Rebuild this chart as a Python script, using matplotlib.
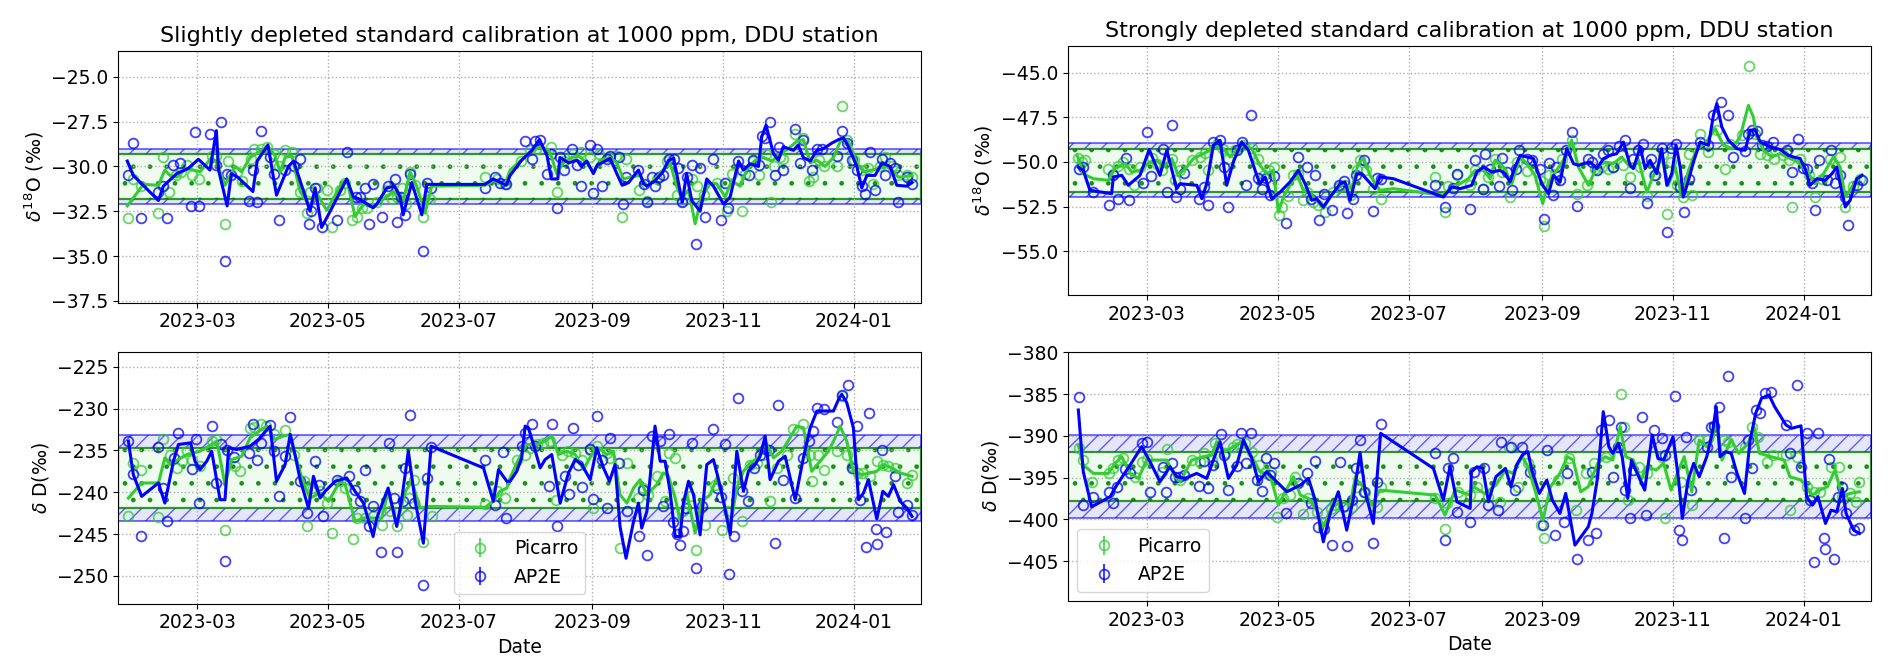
import numpy as np
import matplotlib
matplotlib.use('Agg')
import matplotlib.pyplot as plt
import matplotlib.dates as mdates
from matplotlib.ticker import MultipleLocator

# dates are given as days since 2023-01-01, values in permil
BASE = np.datetime64('2023-01-01T00:00')
XLIM_DAYS = (22.2, 396.2)

GREEN = '#33cc33'
BLUE = '#0000ff'

# reference value, half width AP2E band, half width Picarro band, half y-range
O18_SLIGHT_REF = (-30.57, 1.54, 1.26, 7.03)
D_SLIGHT_REF = (-238.26, 5.15, 3.6, 15.05)
O18_STRONG_REF = (-50.47, 1.52, 1.21, 7.0)
D_STRONG_REF = (-394.87, 4.95, 2.9, 14.92)

# ---------------- slightly depleted, d18O ----------------
O18_SLIGHT_PIC = [(27, -32.9), (29, -30.7), (33, -31.1), (41, -32.6), (43, -29.5), (46, -31.4), (49, -30.5), (51.5, -30.3),
    (54.5, -29.9), (56.5, -30.5), (60, -30.7), (66, -29.4), (68, -29.4), (72, -33.2), (73.6, -29.7), (77.5, -30.3),
    (80, -30.8), (84, -29.6), (85.6, -29.05), (89, -29.0), (91.5, -28.9), (95, -29.3), (97, -30.0), (100, -29.1),
    (103, -29.2), (107, -31.4), (110, -32.6), (111.6, -31.4), (115, -31.2), (119.7, -31.3), (121.7, -33.4), (125.6, -31.3),
    (128, -30.9), (131, -33.0), (133.4, -32.8), (135.7, -32.3), (138, -32.3), (142.7, -32.0), (147.4, -31.3), (149.7, -31.8),
    (152, -31.7), (154.3, -31.2), (156.4, -32.1), (158.2, -30.3), (160.6, -31.05), (164.4, -32.8), (167.5, -31.8),
    (193.2, -30.6), (198.6, -30.7), (202.5, -31.0), (210, -29.7), (214, -29.1), (217, -29.0), (224, -28.9), (226.5, -31.4),
    (230, -29.7), (234, -29.3), (238, -29.2), (242, -29.5), (246, -29.3), (251, -29.5), (254, -29.4), (257, -32.8),
    (259, -29.6), (265, -31.3), (268.5, -31.9), (273, -30.7), (278, -29.7), (282.5, -31.6), (285, -31.9), (289.4, -30.7),
    (292, -31.1), (295, -31.6), (301, -30.9), (306, -32.5), (308, -30.4), (312.7, -32.5), (314, -30.4), (318, -29.7),
    (320.5, -30.5), (324, -29.3), (326.5, -32.0), (327.5, -30.0), (330.6, -29.5), (332, -29.6), (337.6, -28.2),
    (341.4, -28.4), (343.8, -30.8), (346, -30.6), (348.5, -29.65), (351, -30.0), (357, -30.0), (359.3, -26.6),
    (361.6, -28.5), (365, -29.65), (368.6, -30.2), (371.5, -30.1), (374, -31.0), (377, -30.0), (379.5, -29.5),
    (382.6, -30.0), (385.7, -30.5), (389.6, -30.5), (392, -30.6)]
O18_SLIGHT_PIC_LINE = [(26.5, -32.2), (34, -31.0), (41, -31.05), (44, -30.2), (46.4, -30.5), (49.5, -30.6), (54.2, -30.1),
    (60.4, -30.3), (65.8, -29.5), (68.2, -29.8), (72, -31.05), (76.7, -30.0), (79.8, -30.3), (83.7, -29.5), (89.1, -29.1),
    (92.2, -28.9), (95.3, -29.4), (97.7, -30.3), (100, -29.5), (103.1, -29.4), (107, -31.4), (111.6, -32.2), (114.7, -31.5),
    (119.4, -32.45), (125.6, -31.1), (128.7, -30.7), (132.6, -32.8), (136.5, -32.1), (141.1, -32.3), (145.8, -31.8),
    (150.5, -31.4), (155.1, -31.9), (158.2, -30.3), (161.3, -31.1), (165.2, -32.6), (168.3, -31.1), (193.2, -31.05),
    (197, -30.8), (202.5, -31.0), (204.8, -30.2), (209.5, -29.7), (214, -29.2), (218.8, -28.9), (222.7, -29.1),
    (224.2, -29.5), (226.5, -30.4), (229.6, -29.8), (233.5, -29.5), (236.6, -29.4), (240.5, -29.8), (243.6, -30.3),
    (246.7, -29.65), (251.4, -29.5), (254.5, -29.8), (257.6, -30.7), (260.7, -30.6), (265.4, -30.5), (268.5, -31.1),
    (271.6, -30.8), (276, -30.2), (279.3, -29.8), (282.4, -31.1), (284.8, -31.8), (287.9, -31.3), (291, -33.2), (294, -31.7),
    (298, -30.96), (301, -30.96), (305, -31.7), (308, -30.8), (312, -31.1), (315, -30.2), (319, -29.65), (322.8, -29.5),
    (326.7, -29.7), (330.6, -29.3), (334.5, -29.0), (338.3, -28.6), (341.4, -28.5), (344.6, -29.8), (347.7, -29.65),
    (351.5, -30.0), (355.4, -29.5), (359.3, -28.4), (362.4, -28.6), (366.3, -29.8), (369.4, -30.3), (373.3, -30.2),
    (377.2, -30.1), (381, -30.0), (385.7, -30.6), (392, -30.5)]
O18_SLIGHT_AP = [(27, -30.5), (29, -28.7), (33, -32.9), (41, -31.4), (43, -31.1), (45, -32.9), (48, -29.9), (51, -29.8),
    (56, -32.2), (58, -28.1), (60, -32.2), (65, -28.2), (68, -29.9), (70, -27.5), (72, -35.3), (73, -30.4), (75, -30.5),
    (83, -31.9), (85, -30.2), (87, -32.0), (89, -28.0), (93, -29.5), (95, -30.4), (97, -33.0), (100, -30.2), (104, -30.0),
    (107, -29.6), (111, -33.2), (112, -32.5), (114, -31.2), (117, -33.4), (124, -33.0), (129, -29.2), (133, -31.7),
    (135, -31.7), (137, -31.2), (139, -33.2), (141, -31.0), (145, -32.8), (148, -31.1), (151, -30.7), (152, -33.1),
    (154, -31.7), (156, -32.7), (158, -30.4), (164, -34.7), (166, -30.9), (168, -31.2), (193, -31.2), (198, -30.6),
    (200, -30.9), (203, -31.0), (211.8, -28.6), (215, -29.6), (216.4, -28.6), (218.5, -28.5), (222, -30.4), (224, -29.3),
    (226.5, -32.3), (228, -29.5), (230, -30.2), (233.5, -29.0), (236, -29.9), (238, -31.1), (242, -28.8), (243.6, -31.5),
    (245.5, -29.05), (247.5, -31.1), (250, -29.6), (251.4, -29.4), (255.3, -29.5), (257.6, -32.1), (258.8, -30.6),
    (264.6, -30.2), (267, -30.96), (268.5, -32.0), (270.8, -30.6), (272.3, -31.1), (274, -30.6), (276, -30.5),
    (278.6, -29.6), (281, -29.6), (283, -30.1), (285, -32.0), (287, -30.6), (289.4, -29.9), (291.4, -34.3), (293.3, -30.1),
    (295.6, -32.8), (299.2, -29.6), (303, -33.0), (305, -30.9), (306.5, -32.3), (311, -29.7), (312.7, -30.2), (316, -30.5),
    (318, -29.65), (320.5, -29.9), (322, -28.3), (323.6, -28.4), (326, -27.5), (328, -30.5), (330, -28.9), (332, -30.2),
    (337.6, -27.9), (340, -29.8), (341.4, -28.5), (345.3, -30.2), (347.7, -29.05), (350, -29.05), (357, -29.4),
    (359.3, -28.0), (361.6, -28.7), (364, -29.65), (366.3, -30.2), (368.6, -31.1), (370.2, -31.55), (372.5, -29.2),
    (374.8, -31.3), (378, -29.6), (379.5, -30.5), (381.8, -29.8), (384, -30.1), (385.7, -32.0), (389.6, -30.6), (392, -31.0)]
O18_SLIGHT_AP_LINE = [(26.5, -29.7), (29.3, -30.5), (41, -31.9), (43.3, -31.1), (49.5, -30.4), (55, -30.1), (59.6, -29.6),
    (65, -30.2), (68, -28.0), (69, -30.2), (73, -32.2), (75, -30.4), (78, -30.6), (85, -31.4), (87, -29.7), (92, -28.8),
    (93, -29.5), (96, -31.6), (101.5, -30.0), (104, -29.7), (110, -31.9), (111.6, -32.5), (114, -31.2), (117, -33.4),
    (121, -32.5), (128.7, -30.7), (131.8, -31.7), (134.2, -31.8), (141, -32.3), (142.7, -32.1), (147.4, -31.2), (151, -31.1),
    (153.6, -31.7), (155, -32.7), (159, -30.9), (163.7, -32.7), (166, -31.0), (168.3, -31.0), (193, -31.0), (197, -30.7),
    (203, -31.05), (204.8, -30.5), (210.2, -29.65), (215, -29.1), (218.5, -28.5), (222, -29.4), (224, -30.7), (227, -30.7),
    (228, -29.5), (232, -29.8), (236, -29.65), (238, -30.0), (240.5, -29.7), (243.6, -30.4), (245.5, -29.9), (247.5, -29.8),
    (251.4, -29.55), (254.5, -30.4), (257, -31.05), (260, -30.9), (264.6, -30.2), (267, -30.96), (268.5, -31.1),
    (272.3, -30.8), (276, -30.3), (278.6, -29.65), (281, -29.55), (285, -32.0), (287, -30.4), (289.4, -31.9), (293.3, -32.5),
    (296.4, -30.7), (299.5, -31.1), (304.2, -32.1), (307.3, -31.7), (311.2, -29.7), (313.5, -30.2), (316.6, -29.85),
    (320.5, -30.0), (322, -28.35), (324, -27.7), (327.5, -29.3), (329.8, -29.65), (332, -28.9), (336.8, -29.1), (339, -28.8),
    (341.4, -29.5), (344.6, -29.7), (347.7, -29.1), (350.8, -29.0), (354.6, -28.7), (357.8, -28.5), (360.1, -28.4),
    (362.4, -28.9), (366.3, -30.0), (368.6, -31.2), (371, -30.5), (374.8, -30.5), (378, -29.8), (381.8, -30.0),
    (384.9, -31.05), (389.6, -31.1), (392, -30.9)]

# ---------------- slightly depleted, dD ----------------
D_SLIGHT_PIC = [(27, -242.8), (29, -236.5), (33, -237.4), (41, -243.0), (43, -233.6), (46.4, -235.5), (49.5, -237.1),
    (52, -236.3), (54.5, -235.1), (56.5, -236.1), (60.4, -236.9), (65.8, -233.9), (68, -233.7), (72, -244.5), (76.7, -236.9),
    (79, -237.5), (83.7, -232.3), (85.6, -232.2), (88.7, -231.9), (91, -232.1), (95, -233.1), (100, -232.6), (104, -235.5),
    (108.8, -238.7), (110.4, -244.1), (113, -239.5), (116.3, -239.9), (119.7, -241.3), (121.7, -244.9), (125.6, -238.7),
    (128, -239.5), (131.5, -245.6), (133.4, -243.1), (137.3, -243.1), (141.1, -242.9), (145, -243.9), (149, -242.3),
    (152, -244.1), (156.7, -242.7), (157.5, -240.7), (160, -238.5), (164.4, -245.9), (168.3, -242.9), (193.2, -241.4),
    (198.6, -239.9), (202.5, -240.7), (208, -236.1), (211.8, -235.5), (214.1, -234.7), (217.2, -234.3), (220.3, -234.1),
    (223.4, -233.9), (226.2, -240.9), (228.9, -235.5), (232, -235.1), (235.1, -235.3), (238.2, -236.1), (242.1, -235.0),
    (243.6, -241.9), (245.5, -234.5), (249.8, -235.3), (251.4, -235.9), (256, -246.7), (259.2, -236.5), (264.6, -240.7),
    (266.9, -239.5), (269.2, -240.3), (273.1, -238.1), (277, -241.1), (278.6, -235.3), (281.7, -235.9), (285.5, -242.3),
    (288.7, -240.5), (291.4, -246.9), (295.6, -243.9), (300.3, -239.1), (303.4, -244.5), (306.5, -242.3), (308.8, -238.3),
    (312.7, -243.5), (316.6, -236.7), (319.7, -236.5), (322.8, -235.5), (325.9, -241.1), (329, -237.1), (333.7, -235.5),
    (336.8, -232.5), (341.4, -231.9), (344.6, -235.5), (345.3, -238.7), (348.4, -235.5), (350.8, -237.3), (357, -235.1),
    (359.3, -228.5), (361.6, -235.5), (364, -236.9), (367, -237.7), (369.4, -237.7), (372.5, -238.1), (375.6, -236.3),
    (378.7, -236.7), (381, -236.9), (384.2, -237.1), (389.6, -238.9), (392, -237.9)]
D_SLIGHT_PIC_LINE = [(27, -240.7), (33.2, -238.9), (41, -238.9), (44, -235.9), (46.4, -236.7), (50.3, -236.1), (54.2, -235.5),
    (60.4, -235.1), (65.8, -234.3), (68.2, -233.9), (72, -239.1), (75.1, -236.1), (79.8, -235.7), (83.7, -233.5),
    (89.1, -232.5), (91.5, -232.1), (95.3, -233.7), (99, -233.3), (102.4, -233.1), (104.6, -235.5), (108.8, -239.1),
    (111.6, -240.7), (116.3, -240.1), (120.2, -241.1), (125.6, -238.7), (128, -239.1), (132.6, -243.5), (136.5, -243.1),
    (141.1, -243.1), (145, -243.1), (148, -239.9), (152, -243.9), (156, -239.9), (159, -238.7), (162.9, -241.9),
    (167.5, -241.7), (193.2, -241.8), (197, -241.1), (200.1, -239.9), (203.3, -239.5), (204.8, -238.3), (208.7, -236.1),
    (212.6, -234.3), (217.2, -234.3), (221.1, -233.9), (224.2, -233.3), (227.3, -235.5), (231.2, -235.1), (235.1, -235.5),
    (239, -237.3), (242.8, -235.5), (246, -234.7), (249.8, -235.5), (252.9, -235.1), (256, -240.3), (259.2, -241.3),
    (262.3, -239.5), (265.4, -238.5), (268.5, -240.3), (273.1, -239.1), (276.2, -237.7), (278.6, -238.1), (281.7, -240.7),
    (284, -243.5), (287.1, -240.1), (291, -244.9), (294, -241.1), (298, -240.3), (301.1, -238.3), (304.2, -241.1),
    (307.3, -244.1), (310.4, -239.5), (313.5, -237.5), (316.6, -236.5), (320.5, -235.9), (323.6, -233.9), (327.5, -235.9),
    (331.3, -235.1), (335.2, -233.5), (338.3, -232.1), (341.4, -232.3), (345.3, -237.5), (349.2, -236.3), (353.1, -235.1),
    (356.2, -233.5), (358.5, -232.1), (361.6, -233.9), (364.7, -237.5), (368.6, -237.9), (372.5, -237.7), (375.6, -237.5),
    (378.7, -236.7), (382.6, -237.1), (386.5, -237.7), (392, -238.1)]
D_SLIGHT_AP = [(27, -233.9), (29, -237.8), (33, -245.2), (41, -234.6), (43, -239.5), (45, -243.5), (48.4, -235.9),
    (50.3, -232.9), (56.5, -237.2), (58.4, -233.6), (60, -241.3), (65.8, -232.1), (68, -238.9), (70, -234.3), (72, -248.2),
    (73, -235.0), (76, -235.8), (83.4, -235.3), (85, -231.9), (87, -236.2), (89, -234.1), (93, -232.0), (94.6, -235.1),
    (97, -240.5), (100, -235.7), (102.4, -231.05), (107, -238.7), (110.4, -242.5), (114, -236.3), (116, -239.1),
    (117.8, -242.9), (124, -238.5), (129.6, -238.1), (132.6, -239.7), (135, -241.1), (137.3, -237.3), (139, -244.1),
    (141, -241.7), (144.6, -247.2), (148.6, -234.1), (150.5, -240.7), (152.3, -247.2), (155, -241.1), (156, -237.1),
    (158.4, -230.8), (160, -241.3), (164, -251.1), (166, -238.3), (168, -234.6), (193, -236.2), (198, -241.5),
    (201.4, -235.2), (203, -243.1), (210.2, -234.5), (211.8, -232.9), (215, -231.9), (216.4, -234.5), (222.7, -239.3),
    (224.2, -231.8), (226.5, -244.1), (230.4, -238.1), (232.4, -240.2), (234, -232.3), (236.6, -236.7), (238.2, -239.4),
    (241.8, -234.8), (243.6, -240.8), (245.5, -230.9), (247.5, -236.1), (249.8, -241.9), (251.4, -233.5), (255.3, -236.5),
    (259.2, -242.3), (265, -245.2), (266.9, -239.7), (268.5, -247.5), (270.8, -233.3), (274.4, -233.9), (276.2, -241.6),
    (278.6, -233.1), (280.9, -243.6), (282.4, -245.0), (284, -246.3), (285.2, -244.6), (286.8, -241.9), (289.4, -234.1),
    (291.4, -249.1), (294, -241.7), (299.2, -232.4), (301.1, -239.5), (302.9, -240.6), (305, -234.3), (306.8, -249.8),
    (309.1, -245.2), (310.9, -228.7), (312.7, -239.9), (315.8, -241.1), (318.2, -237.1), (321.3, -235.5), (323.6, -234.8),
    (325.6, -234.9), (328.2, -246.1), (329.8, -229.6), (331.8, -238.5), (337.6, -240.7), (341.4, -235.9), (343.8, -233.9),
    (345.8, -232.7), (347.7, -229.9), (350.8, -230.0), (357, -231.6), (359.3, -228.4), (362.4, -227.2), (364, -237.1),
    (366.6, -232.1), (367.8, -240.9), (370.6, -246.5), (372.2, -230.5), (375.3, -244.4), (375.9, -246.2), (378, -234.9),
    (380, -244.8), (384.2, -238.1), (385.7, -242.4), (389.6, -241.5), (392, -242.7)]
D_SLIGHT_AP_LINE = [(27, -233.9), (29.3, -237.9), (33.2, -240.5), (41, -238.9), (44, -241.3), (48, -236.3), (50.3, -234.3),
    (56, -234.1), (58, -236.3), (60.4, -237.3), (63.5, -236.3), (65.8, -235.1), (69.7, -240.9), (72, -240.9), (73.7, -234.7),
    (77.5, -234.9), (83.7, -234.5), (87.6, -233.7), (93, -232.1), (96, -238.7), (100, -236.7), (102.4, -233.1),
    (104.6, -235.5), (107, -238.5), (110.9, -241.9), (113.2, -238.1), (116.3, -240.7), (118.6, -239.9), (123.3, -238.7),
    (128.7, -238.3), (132.6, -239.9), (136.5, -241.3), (141, -245.3), (142.7, -243.1), (148, -239.5), (152, -244.1),
    (154.3, -240.9), (157.4, -235.1), (160.6, -241.1), (164.4, -246.1), (168, -234.5), (192.4, -237.1), (197, -241.1),
    (199.4, -237.3), (203.3, -238.7), (204.8, -238.7), (207.9, -237.5), (210.2, -235.9), (211.8, -232.1), (213.3, -232.3),
    (215.7, -234.3), (218.8, -237.1), (221.1, -236.1), (224.2, -235.5), (228.1, -241.3), (232, -237.7), (235.1, -236.1),
    (238.2, -236.7), (242.1, -238.5), (245.2, -234.7), (248.3, -237.1), (251.1, -238.7), (253.7, -236.7), (256, -244.1),
    (258.8, -247.9), (262.3, -243.5), (264.6, -241.3), (266.1, -244.3), (268.5, -242.3), (272.3, -232.1), (274.7, -236.3),
    (277, -236.3), (279.3, -239.9), (281.7, -245.3), (284, -245.3), (285.5, -241.3), (287.9, -238.7), (290.2, -240.3),
    (293.3, -245.1), (296.4, -236.7), (299.5, -236.1), (301.9, -238.5), (304.2, -241.1), (307.3, -245.1), (310.4, -235.1),
    (313.5, -239.9), (315.8, -237.5), (318.9, -236.7), (321.3, -235.7), (323.6, -233.3), (325.9, -238.5), (329.8, -236.3),
    (332.9, -235.7), (337.6, -240.9), (341.4, -235.9), (344.6, -232.3), (347.7, -230.3), (355.4, -230.3), (357.8, -228.9),
    (359.3, -228.3), (361.6, -229.3), (364.7, -232.3), (367.1, -240.9), (369.4, -240.1), (371.7, -238.5), (375.6, -243.2),
    (378.4, -239.9), (381, -240.5), (383.4, -239.1), (386.5, -241.1), (389.6, -241.9), (392, -242.9)]

# ---------------- strongly depleted, d18O ----------------
O18_STRONG_PIC = [(27, -49.8), (28.9, -50.0), (30.1, -49.9), (41, -50.37), (43.3, -50.66), (45.7, -50.24), (48, -50.0),
    (50.6, -50.37), (53, -51.31), (55.7, -50.28), (61.2, -49.8), (63.5, -50.09), (65.8, -50.47), (70.5, -49.81), (72, -51.03),
    (74.4, -50.47), (79.8, -49.9), (83.7, -49.72), (86, -49.5), (87.6, -50.47), (91.5, -48.97), (94.6, -49.25), (96.9, -49.81),
    (100, -49.34), (103.6, -49.06), (107.8, -49.2), (110.9, -49.81), (113.7, -50.75), (115.7, -50.47), (118, -50.28),
    (120.3, -53.0), (121.9, -52.53), (124.7, -51.93), (127, -50.75), (129.5, -50.66), (131.6, -52.15), (133.7, -51.69),
    (136.5, -52.25), (138.8, -52.43), (141.9, -52.81), (145.8, -51.69), (148.6, -51.4), (151.2, -51.31), (154, -51.87),
    (156.7, -50.47), (158.2, -49.9), (161, -50.47), (164.4, -51.5), (167.8, -52.06), (193.2, -50.84), (197.8, -52.81),
    (199.4, -51.37), (203.3, -50.75), (209.5, -51.31), (211.8, -50.47), (215.4, -51.5), (218, -50.84), (221.1, -49.81),
    (224.2, -50.56), (228.1, -51.97), (231.2, -50.0), (235.9, -50.51), (242.1, -51.03), (243.9, -53.61), (246, -50.75),
    (249.1, -50.66), (252.2, -49.81), (256.8, -48.78), (259.2, -51.78), (263.8, -51.31), (267.7, -50.37), (270.8, -50.28),
    (273.9, -50.37), (276.2, -50.28), (280.9, -50.19), (284, -50.84), (288.7, -50.28), (291.8, -51.93), (294.9, -50.75),
    (299.2, -49.53), (301.1, -52.9), (302.9, -50.0), (305.7, -51.31), (308.5, -51.97), (311.2, -49.53), (312.7, -51.87),
    (316.6, -48.45), (320.5, -49.44), (324.4, -48.22), (328.2, -50.37), (330.6, -48.97), (336, -48.5), (339.6, -44.6),
    (342.2, -48.41), (344.6, -49.53), (347.7, -49.63), (350.8, -49.81), (355.4, -49.63), (357.8, -49.9), (359.3, -52.53),
    (363.2, -49.81), (367.1, -50.75), (370.2, -51.97), (373.3, -50.94), (377.2, -49.81), (381.8, -49.72), (384.2, -52.53),
    (388, -51.37), (391.1, -50.94)]
O18_STRONG_PIC_LINE = [(26.5, -49.63), (29.3, -50.66), (34, -50.94), (41, -51.03), (44.1, -50.37), (48.8, -50.09),
    (51.9, -50.56), (55.7, -50.47), (60.4, -50.0), (63.5, -49.9), (66.6, -50.28), (70.5, -49.81), (73.6, -50.75),
    (77.5, -50.28), (80.6, -49.81), (83.7, -49.63), (86.8, -49.44), (89.9, -49.06), (94.6, -49.25), (97.7, -49.72),
    (100.8, -49.34), (103.9, -49.06), (107.8, -49.25), (111.6, -50.19), (114.7, -50.66), (117.8, -50.47), (120.2, -52.81),
    (122.5, -51.97), (125.6, -51.31), (128.7, -50.66), (131.8, -51.59), (134.2, -51.69), (138, -52.15), (141.1, -52.62),
    (145.8, -51.69), (150.5, -51.22), (154.3, -51.5), (157.4, -50.09), (159.8, -49.81), (162.9, -50.75), (167.5, -51.59),
    (173.8, -51.5), (197, -51.87), (200.9, -51.4), (204.8, -51.22), (208.7, -50.94), (211.8, -50.47), (215.7, -50.47),
    (218.8, -50.94), (221.1, -49.9), (225, -50.28), (228.9, -51.22), (232.8, -49.72), (235.9, -50.09), (239.7, -50.75),
    (243.3, -52.34), (246, -51.12), (249.8, -50.47), (252.9, -49.9), (256.8, -48.78), (259.9, -50.28), (264.6, -51.31),
    (268.5, -50.28), (272.3, -50.0), (276.2, -50.09), (280.1, -49.72), (284, -50.28), (287.9, -49.9), (291.8, -51.69),
    (294.9, -50.75), (298.7, -49.72), (301.8, -51.31), (305, -50.28), (308.1, -51.97), (311.2, -50.47), (315.1, -49.25),
    (318.9, -48.97), (323.6, -48.13), (327.5, -49.06), (331.4, -49.25), (335.2, -48.6), (339.1, -46.82), (341.4, -47.47),
    (343, -48.6), (346.1, -49.34), (350, -49.72), (353.9, -49.53), (358.5, -49.81), (362.4, -50.0), (366.3, -50.47),
    (370.2, -51.22), (374.1, -50.66), (378.7, -49.72), (381.8, -50.28), (384.2, -51.97), (387.3, -51.4), (392, -50.75)]
O18_STRONG_AP = [(27.3, -50.4), (29.3, -50.3), (33.7, -51.7), (41.5, -52.4), (43.3, -50.75), (45.3, -52.1), (49, -49.8),
    (50.8, -52.15), (56.9, -51.2), (58.8, -48.3), (60.7, -50.8), (66.3, -49.25), (68.2, -51.7), (70.5, -47.9), (72.4, -51.97),
    (74.4, -51.5), (76, -50.6), (83.4, -52.06), (85.3, -51.4), (87.6, -52.43), (89.6, -48.88), (93, -48.75), (94.9, -50.3),
    (96.9, -52.53), (100.8, -49.3), (103.1, -48.88), (104.9, -51.3), (107.4, -47.34), (110.9, -50.9), (112.4, -51.5),
    (114.4, -50.9), (116.3, -51.87), (118.2, -50.8), (123.7, -53.43), (129.5, -49.72), (133.4, -50.3), (135.3, -52.06),
    (137.3, -50.75), (139.1, -53.24), (141.5, -51.78), (145, -52.72), (148.6, -51.3), (150.8, -51.06), (152.3, -52.86),
    (154.7, -52.1), (156.4, -50.75), (160.1, -49.9), (164.4, -52.75), (166, -50.9), (167.8, -50.94), (193.2, -51.31),
    (197.8, -52.53), (201.4, -51.44), (203.6, -50.7), (209.5, -52.62), (211.8, -49.9), (215.4, -51.5), (216.4, -49.57),
    (218.8, -50.37), (223.1, -51.37), (224.2, -49.76), (226.5, -50.56), (228.9, -51.59), (230.9, -50.37), (232.4, -49.3),
    (235.9, -49.81), (238.2, -49.87), (241.8, -50.37), (243.9, -53.18), (246, -50.06), (248, -51.87), (249.5, -50.28),
    (251.4, -51.03), (254.2, -49.34), (256.8, -48.31), (259.2, -52.49), (264.6, -49.81), (266.1, -50.0), (268.5, -50.47),
    (271.6, -49.53), (273.9, -49.3), (276.2, -50.28), (278.6, -49.12), (281.7, -48.75), (284, -51.44), (285.5, -49.81),
    (287.9, -49.34), (289.9, -48.97), (291.8, -52.3), (293.6, -49.81), (295.6, -50.75), (298.7, -49.19), (301.1, -53.93),
    (302.9, -49.19), (305.4, -48.97), (307.3, -51.4), (309.1, -52.81), (311.2, -50.94), (316.6, -48.88), (320.5, -49.06),
    (322.8, -47.38), (326.2, -46.63), (329.8, -47.38), (331.8, -49.72), (337.6, -49.38), (338.7, -48.45), (340.7, -48.22),
    (343.3, -48.26), (345.3, -49.06), (347.7, -49.12), (350.4, -48.88), (357, -49.34), (359.3, -50.56), (362.4, -48.69),
    (364.7, -50.32), (366.3, -50.37), (368.6, -51.18), (370.2, -52.68), (372.2, -49.9), (375.6, -50.99), (377.5, -49.3),
    (379.5, -51.18), (381.8, -50.75), (384.2, -51.97), (385.7, -53.56), (389.6, -51.31), (392, -50.99)]
O18_STRONG_AP_LINE = [(27, -50.3), (29.3, -50.47), (32.4, -51.59), (42.5, -51.78), (43.3, -50.84), (47.2, -50.75),
    (50.3, -51.31), (55.7, -50.75), (60, -49.3), (65, -50.75), (68.2, -49.34), (72.8, -51.5), (74.4, -51.22), (82.2, -51.31),
    (84.5, -52.06), (86.8, -51.22), (89.9, -49.06), (93, -48.78), (96.1, -51.31), (99.2, -50.0), (103.1, -48.88),
    (106.2, -49.34), (110.1, -50.75), (111.6, -51.22), (114, -50.84), (117.1, -52.06), (121, -51.69), (125.6, -51.12),
    (129.5, -50.47), (132.6, -51.22), (135.7, -52.15), (138, -52.06), (141.1, -52.53), (144.3, -51.97), (148.9, -51.22),
    (151.2, -51.12), (153.6, -52.15), (156.7, -50.66), (159, -50.66), (165.2, -51.5), (167.5, -50.84), (173.8, -50.94),
    (197, -51.97), (200.9, -51.4), (204.8, -51.5), (210.2, -51.31), (212.6, -50.56), (215.7, -50.28), (219.6, -50.56),
    (223.4, -50.47), (225.8, -50.66), (228.1, -51.12), (230.4, -50.28), (232.8, -49.63), (235.9, -49.72), (239, -49.81),
    (242.8, -51.22), (246, -51.78), (248.3, -50.75), (251.4, -51.12), (254.5, -49.25), (257.6, -50.09), (260, -50.19),
    (262.3, -50.09), (265.4, -50.0), (268.5, -50.37), (271.6, -49.81), (274.7, -49.63), (277.8, -49.53), (280.9, -48.88),
    (284, -50.19), (285.5, -50.37), (288.7, -49.16), (291, -50.37), (293.3, -49.9), (296.4, -50.66), (298.7, -49.25),
    (301.1, -51.31), (303.4, -50.66), (305.4, -49.06), (307.3, -50.28), (308.8, -51.97), (311.2, -51.03), (313.5, -50.0),
    (316.6, -48.88), (320.5, -49.06), (322.8, -47.38), (324.4, -46.72), (326.7, -48.03), (329.8, -48.78), (333.7, -49.25),
    (337.6, -49.34), (339.9, -48.22), (342.2, -48.18), (344.6, -48.88), (349.2, -49.16), (353.9, -49.3), (357.8, -49.63),
    (360.1, -49.72), (363.2, -49.81), (365.5, -50.37), (367.8, -51.31), (371, -50.94), (374.8, -51.03), (378, -50.66),
    (380.3, -50.28), (381.8, -51.22), (384.2, -52.53), (386.5, -52.15), (389.6, -50.94), (392, -50.75)]

# ---------------- strongly depleted, dD ----------------
D_STRONG_PIC = [(27.3, -391.5), (29.3, -392.9), (33.5, -395.5), (41.5, -394.5), (43.3, -393.8), (45.7, -392.9), (48, -392.7),
    (53.4, -394.9), (56.5, -393.1), (59.2, -392.8), (66, -394.3), (68.2, -391.6), (74.4, -395.3), (79.8, -392.9),
    (83.7, -393.1), (85.6, -392.0), (89.1, -392.9), (90.7, -390.9), (95.3, -392.1), (99.2, -391.3), (100.8, -391.0),
    (104.7, -390.9), (107.8, -391.9), (111.2, -393.5), (113.9, -394.5), (116.6, -394.3), (119.7, -399.7), (122.2, -397.5),
    (125.6, -397.1), (127.9, -394.9), (131.5, -399.4), (134.2, -397.5), (138, -399.1), (141.1, -400.9), (144.6, -398.8),
    (146.6, -398.3), (150.5, -398.5), (154.3, -398.5), (156.7, -396.1), (157.9, -394.9), (160.6, -396.7), (166, -398.5),
    (167.8, -396.1), (193.2, -397.4), (197.8, -401.2), (198.6, -398.1), (204, -396.7), (209.5, -397.1), (212.7, -396.1),
    (218, -397.3), (223.2, -397.9), (227.6, -391.3), (232, -396.1), (236.4, -393.3), (242.6, -400.7), (244, -402.3),
    (250.4, -395.3), (255.7, -392.7), (258.9, -398.9), (263.6, -394.5), (267.1, -393.3), (272.7, -392.5), (279.7, -385.0),
    (281.1, -388.9), (282.9, -397.7), (288.2, -393.7), (291.7, -394.5), (298.7, -392.5), (300.4, -399.9), (307.5, -395.5),
    (312.7, -398.3), (316.2, -390.5), (319.7, -390.5), (323.2, -388.9), (327.6, -390.5), (329.4, -390.7), (337.3, -391.3),
    (340.8, -388.9), (343.4, -390.1), (347.8, -393.1), (350.4, -392.3), (356.6, -392.3), (358.4, -398.9), (361.8, -392.5),
    (366.2, -396.1), (369.8, -396.7), (372.4, -396.7), (377.6, -393.7), (381.1, -393.7), (382.9, -397.3), (386.4, -396.9),
    (389, -397.9), (390.8, -395.5)]
D_STRONG_PIC_LINE = [(27, -391.1), (29.3, -393.5), (34, -394.5), (41, -394.5), (44.1, -393.3), (47.2, -392.5), (51.1, -394.5),
    (55, -395.1), (58.8, -392.9), (63.5, -392.9), (68.2, -392.9), (72, -394.9), (74.4, -395.5), (79.8, -392.9),
    (85.2, -392.5), (89.1, -392.3), (91.5, -390.7), (95.3, -391.9), (99.2, -391.3), (103.1, -390.7), (107, -392.1),
    (111.6, -394.3), (116.3, -394.7), (120.2, -398.3), (123.3, -396.7), (127.2, -394.9), (130.4, -397.1), (134.2, -397.5),
    (138, -398.9), (141.1, -400.9), (145, -398.5), (149.7, -397.9), (153.6, -398.3), (155.9, -395.1), (159, -395.9),
    (163.7, -398.3), (167.5, -396.5), (193.2, -397.1), (197.8, -399.5), (202.5, -396.5), (209.5, -397.1), (211, -396.1),
    (216.2, -396.9), (221.5, -395.9), (225.9, -394.1), (229.4, -394.5), (233.8, -392.5), (236.4, -393.7), (239.9, -396.7),
    (243.4, -400.1), (246.9, -396.1), (251.3, -394.5), (254.8, -392.5), (257.5, -392.9), (261, -396.7), (264.5, -396.1),
    (268.9, -393.3), (272.4, -392.5), (275.9, -392.9), (279.4, -388.9), (282, -392.5), (285.5, -392.9), (289.1, -395.3),
    (291.7, -393.7), (296.1, -394.1), (299.6, -393.3), (303.1, -396.5), (306.6, -394.1), (309.2, -392.5), (312.7, -396.7),
    (316.2, -390.5), (319.7, -391.3), (322.4, -390.5), (324.1, -388.1), (326.8, -392.9), (331.1, -390.5), (334.6, -392.1),
    (339, -390.9), (341.7, -388.9), (344.3, -392.1), (349.6, -392.5), (355.7, -392.9), (358.4, -394.9), (363.6, -395.3),
    (366.2, -396.1), (368.9, -397.1), (372.4, -396.5), (375.9, -396.1), (379.4, -394.1), (382.9, -397.3), (386.4, -396.9),
    (390.8, -396.7)]
D_STRONG_AP = [(27.3, -385.3), (29.3, -398.3), (34, -397.3), (41.5, -396.7), (43.3, -398.1), (45.2, -396.1), (48.8, -394.0),
    (51.1, -394.5), (56.5, -390.9), (58.8, -390.7), (60.4, -396.7), (66.3, -393.7), (67.9, -396.7), (70.5, -393.3),
    (72, -394.9), (74, -394.9), (76, -394.7), (83.4, -396.0), (85.6, -393.0), (87.6, -396.3), (89.6, -393.5), (93.3, -389.8),
    (95, -392.3), (96.9, -396.5), (100.8, -393.6), (102.8, -389.7), (105, -393.3), (107.4, -389.6), (110.1, -395.3),
    (112.4, -396.6), (114.4, -392.7), (116.3, -394.7), (118.3, -393.3), (123.7, -399.3), (129.5, -395.6), (133.4, -394.4),
    (135.3, -398.0), (137.3, -393.0), (138.8, -400.9), (141.5, -401.2), (145, -403.1), (148.9, -393.1), (150.8, -398.4),
    (152.3, -403.2), (154.3, -397.7), (156.2, -393.9), (158.2, -390.5), (160.1, -396.7), (164.4, -402.8), (166, -395.5),
    (167.8, -388.6), (193.2, -392.1), (197.8, -402.5), (199.4, -393.9), (201.4, -392.7), (203.6, -399.1), (209.5, -400.3),
    (211.5, -394.3), (216, -393.9), (218, -398.3), (222.4, -398.9), (224, -390.7), (228.5, -391.3), (230.3, -396.5),
    (233.8, -391.3), (237.3, -394.3), (243.4, -400.7), (245.2, -391.7), (249.2, -401.9), (253.1, -400.3), (254.8, -394.4),
    (259.2, -404.7), (264.5, -402.5), (266.2, -394.3), (268.3, -401.7), (270.6, -389.3), (274.1, -388.1), (275.9, -394.9),
    (278.5, -391.3), (279.7, -388.9), (281.5, -396.5), (283.8, -399.9), (285.5, -394.1), (289.6, -387.7), (291.3, -399.5),
    (295.2, -389.3), (298.7, -390.3), (300.4, -392.3), (304.8, -385.2), (306.6, -401.3), (308.3, -402.5), (310.1, -390.1),
    (312.4, -396.5), (319.7, -391.3), (321.5, -388.9), (323.2, -388.8), (325.4, -386.5), (327.6, -402.3), (329.4, -382.8),
    (331.1, -394.9), (337.3, -399.9), (339, -390.5), (340.8, -393.9), (342.5, -386.9), (344.6, -387.3), (346.9, -384.9),
    (349.6, -384.7), (356.6, -388.7), (358.4, -392.1), (361.8, -383.9), (363.6, -393.7), (366.2, -389.6), (368, -397.7),
    (369.8, -405.1), (371.5, -389.6), (374.1, -402.3), (375, -403.6), (376.7, -392.8), (379, -404.7), (380.8, -397.3),
    (382.9, -396.1), (384.6, -399.3), (388.1, -401.3), (390.8, -401.1)]
D_STRONG_AP_LINE = [(27, -386.9), (29.3, -394.3), (33.2, -398.5), (41.8, -397.3), (44.9, -395.9), (51.1, -393.5),
    (56.5, -391.3), (60.4, -393.1), (65, -395.5), (69.7, -393.7), (72.8, -394.9), (76.7, -395.1), (82.1, -394.5),
    (86.8, -395.1), (89.9, -392.9), (93, -390.7), (96.9, -395.1), (100.8, -393.5), (103.9, -390.5), (107.8, -392.7),
    (110.9, -395.5), (114.7, -394.3), (119.4, -395.5), (124.1, -396.7), (130.4, -395.9), (134.2, -395.1), (137.3, -397.7),
    (141.1, -402.7), (144.3, -399.3), (148.1, -396.7), (152, -401.3), (155.1, -397.5), (158.2, -392.0), (160.6, -396.7),
    (164.4, -400.5), (167.8, -389.7), (192.4, -393.9), (197, -397.7), (200.1, -393.7), (203.3, -397.9), (209.5, -398.7),
    (210.1, -394.3), (212.7, -393.7), (215.4, -393.9), (218, -397.9), (221.5, -394.9), (225.9, -393.9), (228.5, -396.1),
    (231.1, -393.5), (233.8, -392.3), (236.4, -391.9), (238.2, -394.1), (241.7, -396.9), (245.2, -395.3), (247.8, -397.7),
    (251.3, -399.3), (254, -396.9), (258.3, -403.1), (264.5, -400.9), (266.2, -399.3), (268.9, -394.9), (271.5, -387.1),
    (274.1, -391.3), (275.9, -392.1), (278.5, -390.9), (280.3, -392.5), (282.9, -397.5), (284.6, -392.9), (287.3, -394.5),
    (290.8, -396.5), (294.3, -389.9), (297, -392.7), (299.6, -392.9), (304, -390.1), (306.6, -395.3), (308.3, -399.9),
    (311, -395.3), (313.6, -393.3), (316.2, -394.9), (319.7, -392.5), (322.4, -389.5), (324.1, -386.5), (325.9, -392.5),
    (328.5, -391.9), (331.1, -392.1), (333.8, -394.5), (337.3, -396.9), (339.9, -390.5), (342.5, -387.3), (345.2, -385.5),
    (348.7, -385.1), (351.3, -386.5), (356.6, -388.7), (359.2, -389.1), (363.6, -388.8), (366.2, -397.3), (368.9, -398.3),
    (371.5, -397.3), (375, -400.5), (377.6, -398.9), (380.3, -399.1), (382.9, -396.3), (384.6, -399.3), (388.1, -401.3),
    (390.8, -401.7)]

TITLE_SLIGHT = 'Slightly depleted standard calibration at 1000 ppm, DDU station'
TITLE_STRONG = 'Strongly depleted standard calibration at 1000 ppm, DDU station'
YLABEL_O18 = r'$\delta^{18}$O (‰)'
YLABEL_D = r'$\delta$ D(‰)'


def to_dates(days):
    minutes = np.round(np.asarray(days, dtype=float) * 1440).astype('int64')
    return BASE + minutes.astype('timedelta64[m]')


def draw_panel(ax, pic, pic_line, ap, ap_line, ref, step):
    center, half_ap, half_pic, half_range = ref
    ax.axhspan(center - half_ap, center + half_ap, facecolor='#e6e6fb', edgecolor=(0, 0, 1, 0.6),
               hatch='//', lw=1.3, zorder=0.5)
    ax.axhspan(center - half_pic, center + half_pic, facecolor='#eefbee', edgecolor=(0, 0.5, 0, 0.8),
               hatch='.', lw=1.6, zorder=0.6)
    for pts, line, col, lab in ((pic, pic_line, GREEN, 'Picarro'), (ap, ap_line, BLUE, 'AP2E')):
        d, v = zip(*pts)
        ax.errorbar(to_dates(d), v, yerr=np.zeros(len(v)), fmt='o', ms=7, mfc='none', mec=col,
                    ecolor=col, mew=1.3, alpha=0.75, label=lab, zorder=3)
        ld, lv = zip(*line)
        ax.plot(to_dates(ld), lv, '-', color=col, lw=2.2, zorder=4)
    ax.set_xlim(to_dates(XLIM_DAYS))
    ax.set_ylim(center - half_range, center + half_range)
    ax.yaxis.set_major_locator(MultipleLocator(step))
    ax.xaxis.set_major_locator(mdates.MonthLocator(bymonth=[1, 3, 5, 7, 9, 11]))
    ax.xaxis.set_major_formatter(mdates.DateFormatter('%Y-%m'))
    ax.grid(True, linestyle=':', color='#b0b0b0', lw=1.0)


plt.rcParams['font.size'] = 13.5
fig = plt.figure(figsize=(18.92, 6.72), dpi=100)
ax1 = fig.add_axes([0.0624, 0.5496, 0.4244, 0.375])
ax2 = fig.add_axes([0.0624, 0.1019, 0.4244, 0.3747])
ax3 = fig.add_axes([0.5645, 0.561, 0.4244, 0.371])
ax4 = fig.add_axes([0.5645, 0.1057, 0.4244, 0.3705])

draw_panel(ax1, O18_SLIGHT_PIC, O18_SLIGHT_PIC_LINE, O18_SLIGHT_AP, O18_SLIGHT_AP_LINE, O18_SLIGHT_REF, 2.5)
draw_panel(ax2, D_SLIGHT_PIC, D_SLIGHT_PIC_LINE, D_SLIGHT_AP, D_SLIGHT_AP_LINE, D_SLIGHT_REF, 5)
draw_panel(ax3, O18_STRONG_PIC, O18_STRONG_PIC_LINE, O18_STRONG_AP, O18_STRONG_AP_LINE, O18_STRONG_REF, 2.5)
draw_panel(ax4, D_STRONG_PIC, D_STRONG_PIC_LINE, D_STRONG_AP, D_STRONG_AP_LINE, D_STRONG_REF, 5)

ax1.set_title(TITLE_SLIGHT, fontsize=16)
ax3.set_title(TITLE_STRONG, fontsize=16)
ax1.set_ylabel(YLABEL_O18)
ax3.set_ylabel(YLABEL_O18)
ax2.set_ylabel(YLABEL_D)
ax4.set_ylabel(YLABEL_D)
ax2.set_xlabel('Date')
ax4.set_xlabel('Date')
ax2.legend(loc='lower center')
ax4.legend(loc='lower left')

fig.savefig('out.png', dpi=100)
